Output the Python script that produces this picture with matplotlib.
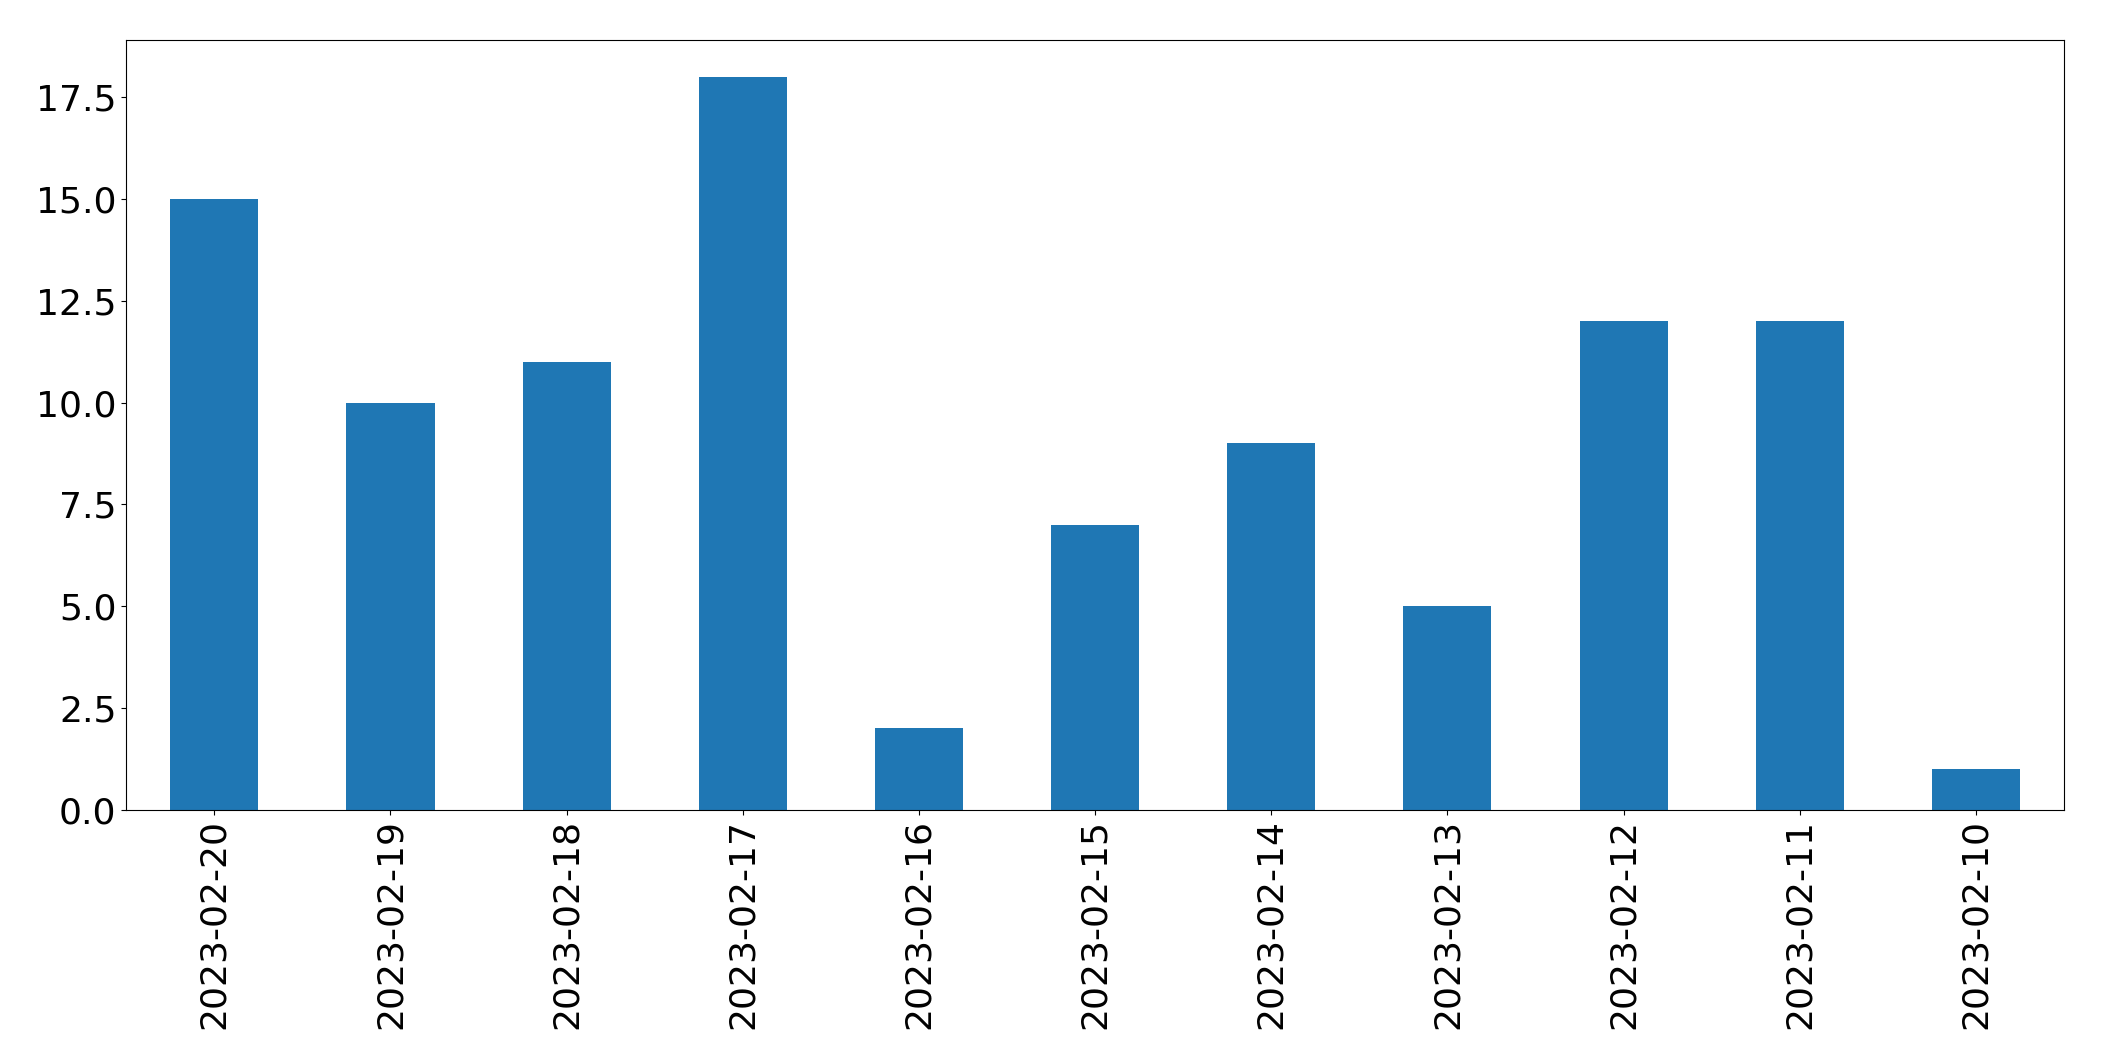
import matplotlib
matplotlib.use("Agg")
import matplotlib.pyplot as plt
import pandas as pd

dates = ["2023-02-20", "2023-02-19", "2023-02-18", "2023-02-17", "2023-02-16",
         "2023-02-15", "2023-02-14", "2023-02-13", "2023-02-12", "2023-02-11",
         "2023-02-10"]
counts = [15, 10, 11, 18, 2, 7, 9, 5, 12, 12, 1]

series = pd.Series(counts, index=dates)

fig, ax = plt.subplots(figsize=(21.04, 10.61), dpi=100)
series.plot(kind="bar", ax=ax, color="#1f77b4")
ax.tick_params(axis="both", labelsize=26)
fig.subplots_adjust(left=0.06, right=0.981, top=0.962, bottom=0.237)

fig.savefig("out.png", dpi=100)
